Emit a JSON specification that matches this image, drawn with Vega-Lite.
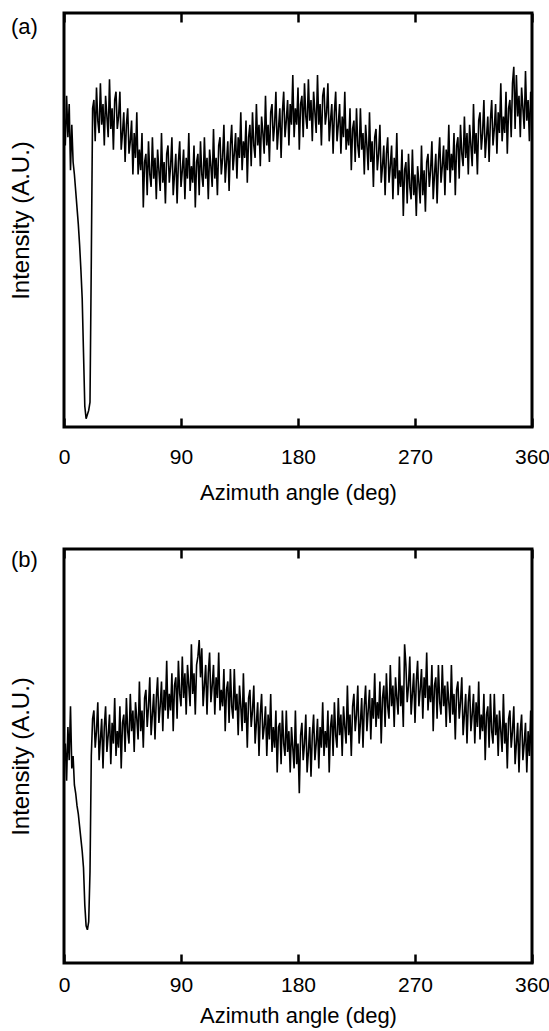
{
"$schema": "https://vega.github.io/schema/vega-lite/v6.json",
"background": "white",
"padding": {"left": 7, "top": 10, "right": 0, "bottom": 0},
"spacing": 41,
"datasets": {
"a": [
{"x":0,"y":76},{"x":1,"y":68},{"x":2,"y":80},{"x":3,"y":70},{"x":4,"y":78},{"x":5,"y":62},{"x":6,"y":73},{"x":7,"y":64},{"x":8,"y":61},{"x":9,"y":57},
{"x":10,"y":53},{"x":11,"y":49},{"x":12,"y":44},{"x":13,"y":38},{"x":14,"y":31},{"x":15,"y":18},{"x":16,"y":5},{"x":17,"y":2},{"x":18,"y":3},{"x":19,"y":4},
{"x":20,"y":6},{"x":21,"y":40},{"x":22,"y":77},{"x":23,"y":79},{"x":24,"y":69},{"x":25,"y":82},{"x":26,"y":74},{"x":27,"y":71},{"x":28,"y":83},{"x":29,"y":73},
{"x":30,"y":78},{"x":31,"y":68},{"x":32,"y":80},{"x":33,"y":75},{"x":34,"y":70},{"x":35,"y":84},{"x":36,"y":72},{"x":37,"y":77},{"x":38,"y":67},{"x":39,"y":79},
{"x":40,"y":81},{"x":41,"y":72},{"x":42,"y":75},{"x":43,"y":81},{"x":44,"y":67},{"x":45,"y":71},{"x":46,"y":76},{"x":47,"y":64},{"x":48,"y":73},{"x":49,"y":77},
{"x":50,"y":66},{"x":51,"y":69},{"x":52,"y":74},{"x":53,"y":61},{"x":54,"y":71},{"x":55,"y":65},{"x":56,"y":76},{"x":57,"y":61},{"x":58,"y":67},{"x":59,"y":62},
{"x":60,"y":71},{"x":61,"y":53},{"x":62,"y":64},{"x":63,"y":66},{"x":64,"y":56},{"x":65,"y":69},{"x":66,"y":61},{"x":67,"y":58},{"x":68,"y":70},{"x":69,"y":60},
{"x":70,"y":65},{"x":71,"y":55},{"x":72,"y":67},{"x":73,"y":62},{"x":74,"y":57},{"x":75,"y":71},{"x":76,"y":59},{"x":77,"y":64},{"x":78,"y":54},{"x":79,"y":66},
{"x":80,"y":68},{"x":81,"y":59},{"x":82,"y":63},{"x":83,"y":70},{"x":84,"y":56},{"x":85,"y":61},{"x":86,"y":66},{"x":87,"y":54},{"x":88,"y":64},{"x":89,"y":69},
{"x":90,"y":58},{"x":91,"y":62},{"x":92,"y":67},{"x":93,"y":55},{"x":94,"y":65},{"x":95,"y":60},{"x":96,"y":71},{"x":97,"y":57},{"x":98,"y":63},{"x":99,"y":59},
{"x":100,"y":68},{"x":101,"y":53},{"x":102,"y":64},{"x":103,"y":66},{"x":104,"y":56},{"x":105,"y":69},{"x":106,"y":61},{"x":107,"y":58},{"x":108,"y":70},{"x":109,"y":60},
{"x":110,"y":65},{"x":111,"y":55},{"x":112,"y":67},{"x":113,"y":63},{"x":114,"y":58},{"x":115,"y":72},{"x":116,"y":60},{"x":117,"y":65},{"x":118,"y":56},{"x":119,"y":68},
{"x":120,"y":70},{"x":121,"y":61},{"x":122,"y":65},{"x":123,"y":73},{"x":124,"y":59},{"x":125,"y":64},{"x":126,"y":69},{"x":127,"y":57},{"x":128,"y":68},{"x":129,"y":73},
{"x":130,"y":62},{"x":131,"y":66},{"x":132,"y":71},{"x":133,"y":60},{"x":134,"y":70},{"x":135,"y":65},{"x":136,"y":76},{"x":137,"y":62},{"x":138,"y":69},{"x":139,"y":65},
{"x":140,"y":74},{"x":141,"y":59},{"x":142,"y":70},{"x":143,"y":73},{"x":144,"y":63},{"x":145,"y":76},{"x":146,"y":68},{"x":147,"y":65},{"x":148,"y":78},{"x":149,"y":68},
{"x":150,"y":73},{"x":151,"y":63},{"x":152,"y":75},{"x":153,"y":71},{"x":154,"y":66},{"x":155,"y":80},{"x":156,"y":68},{"x":157,"y":73},{"x":158,"y":64},{"x":159,"y":76},
{"x":160,"y":78},{"x":161,"y":69},{"x":162,"y":73},{"x":163,"y":81},{"x":164,"y":67},{"x":165,"y":72},{"x":166,"y":77},{"x":167,"y":65},{"x":168,"y":76},{"x":169,"y":81},
{"x":170,"y":70},{"x":171,"y":74},{"x":172,"y":79},{"x":173,"y":68},{"x":174,"y":78},{"x":175,"y":73},{"x":176,"y":85},{"x":177,"y":70},{"x":178,"y":77},{"x":179,"y":73},
{"x":180,"y":82},{"x":181,"y":67},{"x":182,"y":78},{"x":183,"y":80},{"x":184,"y":70},{"x":185,"y":83},{"x":186,"y":75},{"x":187,"y":72},{"x":188,"y":84},{"x":189,"y":74},
{"x":190,"y":79},{"x":191,"y":69},{"x":192,"y":81},{"x":193,"y":76},{"x":194,"y":71},{"x":195,"y":85},{"x":196,"y":73},{"x":197,"y":78},{"x":198,"y":68},{"x":199,"y":80},
{"x":200,"y":82},{"x":201,"y":73},{"x":202,"y":76},{"x":203,"y":83},{"x":204,"y":69},{"x":205,"y":74},{"x":206,"y":78},{"x":207,"y":66},{"x":208,"y":76},{"x":209,"y":81},
{"x":210,"y":69},{"x":211,"y":73},{"x":212,"y":78},{"x":213,"y":66},{"x":214,"y":75},{"x":215,"y":70},{"x":216,"y":81},{"x":217,"y":67},{"x":218,"y":72},{"x":219,"y":68},
{"x":220,"y":77},{"x":221,"y":62},{"x":222,"y":72},{"x":223,"y":74},{"x":224,"y":64},{"x":225,"y":77},{"x":226,"y":68},{"x":227,"y":65},{"x":228,"y":77},{"x":229,"y":67},
{"x":230,"y":71},{"x":231,"y":61},{"x":232,"y":73},{"x":233,"y":68},{"x":234,"y":62},{"x":235,"y":76},{"x":236,"y":64},{"x":237,"y":69},{"x":238,"y":58},{"x":239,"y":70},
{"x":240,"y":72},{"x":241,"y":62},{"x":242,"y":66},{"x":243,"y":73},{"x":244,"y":59},{"x":245,"y":63},{"x":246,"y":68},{"x":247,"y":56},{"x":248,"y":66},{"x":249,"y":70},
{"x":250,"y":59},{"x":251,"y":63},{"x":252,"y":68},{"x":253,"y":55},{"x":254,"y":65},{"x":255,"y":60},{"x":256,"y":71},{"x":257,"y":56},{"x":258,"y":62},{"x":259,"y":58},
{"x":260,"y":67},{"x":261,"y":51},{"x":262,"y":62},{"x":263,"y":64},{"x":264,"y":54},{"x":265,"y":66},{"x":266,"y":58},{"x":267,"y":55},{"x":268,"y":67},{"x":269,"y":56},
{"x":270,"y":61},{"x":271,"y":51},{"x":272,"y":63},{"x":273,"y":59},{"x":274,"y":54},{"x":275,"y":68},{"x":276,"y":56},{"x":277,"y":62},{"x":278,"y":52},{"x":279,"y":64},
{"x":280,"y":66},{"x":281,"y":58},{"x":282,"y":62},{"x":283,"y":69},{"x":284,"y":55},{"x":285,"y":61},{"x":286,"y":66},{"x":287,"y":54},{"x":288,"y":64},{"x":289,"y":70},
{"x":290,"y":59},{"x":291,"y":63},{"x":292,"y":68},{"x":293,"y":56},{"x":294,"y":67},{"x":295,"y":62},{"x":296,"y":73},{"x":297,"y":59},{"x":298,"y":66},{"x":299,"y":62},
{"x":300,"y":71},{"x":301,"y":56},{"x":302,"y":68},{"x":303,"y":70},{"x":304,"y":60},{"x":305,"y":73},{"x":306,"y":66},{"x":307,"y":63},{"x":308,"y":75},{"x":309,"y":65},
{"x":310,"y":71},{"x":311,"y":61},{"x":312,"y":73},{"x":313,"y":68},{"x":314,"y":63},{"x":315,"y":78},{"x":316,"y":66},{"x":317,"y":71},{"x":318,"y":61},{"x":319,"y":74},
{"x":320,"y":76},{"x":321,"y":67},{"x":322,"y":71},{"x":323,"y":79},{"x":324,"y":65},{"x":325,"y":70},{"x":326,"y":75},{"x":327,"y":64},{"x":328,"y":74},{"x":329,"y":79},
{"x":330,"y":68},{"x":331,"y":72},{"x":332,"y":78},{"x":333,"y":66},{"x":334,"y":76},{"x":335,"y":71},{"x":336,"y":83},{"x":337,"y":69},{"x":338,"y":75},{"x":339,"y":71},
{"x":340,"y":81},{"x":341,"y":66},{"x":342,"y":77},{"x":343,"y":79},{"x":344,"y":70},{"x":345,"y":83},{"x":346,"y":87},{"x":347,"y":72},{"x":348,"y":85},{"x":349,"y":75},
{"x":350,"y":80},{"x":351,"y":70},{"x":352,"y":82},{"x":353,"y":77},{"x":354,"y":72},{"x":355,"y":86},{"x":356,"y":74},{"x":357,"y":79},{"x":358,"y":69},{"x":359,"y":81},
{"x":360,"y":76}
],
"b": [
{"x":0,"y":48},{"x":1,"y":53},{"x":2,"y":44},{"x":3,"y":57},{"x":4,"y":49},{"x":5,"y":62},{"x":6,"y":47},{"x":7,"y":50},{"x":8,"y":43},{"x":9,"y":41},
{"x":10,"y":38},{"x":11,"y":36},{"x":12,"y":33},{"x":13,"y":30},{"x":14,"y":27},{"x":15,"y":23},{"x":16,"y":14},{"x":17,"y":9},{"x":18,"y":8},{"x":19,"y":10},
{"x":20,"y":22},{"x":21,"y":50},{"x":22,"y":59},{"x":23,"y":61},{"x":24,"y":52},{"x":25,"y":56},{"x":26,"y":63},{"x":27,"y":49},{"x":28,"y":54},{"x":29,"y":59},
{"x":30,"y":47},{"x":31,"y":57},{"x":32,"y":62},{"x":33,"y":51},{"x":34,"y":55},{"x":35,"y":60},{"x":36,"y":48},{"x":37,"y":58},{"x":38,"y":53},{"x":39,"y":64},
{"x":40,"y":50},{"x":41,"y":56},{"x":42,"y":52},{"x":43,"y":62},{"x":44,"y":47},{"x":45,"y":58},{"x":46,"y":60},{"x":47,"y":51},{"x":48,"y":64},{"x":49,"y":56},
{"x":50,"y":53},{"x":51,"y":65},{"x":52,"y":56},{"x":53,"y":61},{"x":54,"y":51},{"x":55,"y":63},{"x":56,"y":59},{"x":57,"y":54},{"x":58,"y":68},{"x":59,"y":56},
{"x":60,"y":61},{"x":61,"y":52},{"x":62,"y":64},{"x":63,"y":66},{"x":64,"y":57},{"x":65,"y":62},{"x":66,"y":69},{"x":67,"y":55},{"x":68,"y":60},{"x":69,"y":65},
{"x":70,"y":54},{"x":71,"y":64},{"x":72,"y":69},{"x":73,"y":58},{"x":74,"y":62},{"x":75,"y":68},{"x":76,"y":56},{"x":77,"y":66},{"x":78,"y":61},{"x":79,"y":73},
{"x":80,"y":59},{"x":81,"y":65},{"x":82,"y":61},{"x":83,"y":70},{"x":84,"y":56},{"x":85,"y":67},{"x":86,"y":69},{"x":87,"y":59},{"x":88,"y":73},{"x":89,"y":65},
{"x":90,"y":62},{"x":91,"y":74},{"x":92,"y":64},{"x":93,"y":70},{"x":94,"y":60},{"x":95,"y":72},{"x":96,"y":67},{"x":97,"y":62},{"x":98,"y":77},{"x":99,"y":65},
{"x":100,"y":70},{"x":101,"y":60},{"x":102,"y":72},{"x":103,"y":74},{"x":104,"y":78},{"x":105,"y":69},{"x":106,"y":76},{"x":107,"y":62},{"x":108,"y":67},{"x":109,"y":72},
{"x":110,"y":60},{"x":111,"y":70},{"x":112,"y":75},{"x":113,"y":63},{"x":114,"y":67},{"x":115,"y":72},{"x":116,"y":60},{"x":117,"y":69},{"x":118,"y":64},{"x":119,"y":75},
{"x":120,"y":61},{"x":121,"y":66},{"x":122,"y":62},{"x":123,"y":71},{"x":124,"y":56},{"x":125,"y":66},{"x":126,"y":68},{"x":127,"y":58},{"x":128,"y":71},{"x":129,"y":62},
{"x":130,"y":59},{"x":131,"y":71},{"x":132,"y":61},{"x":133,"y":65},{"x":134,"y":55},{"x":135,"y":67},{"x":136,"y":62},{"x":137,"y":56},{"x":138,"y":70},{"x":139,"y":58},
{"x":140,"y":63},{"x":141,"y":52},{"x":142,"y":64},{"x":143,"y":66},{"x":144,"y":57},{"x":145,"y":61},{"x":146,"y":67},{"x":147,"y":53},{"x":148,"y":58},{"x":149,"y":63},
{"x":150,"y":50},{"x":151,"y":60},{"x":152,"y":65},{"x":153,"y":54},{"x":154,"y":57},{"x":155,"y":62},{"x":156,"y":50},{"x":157,"y":60},{"x":158,"y":54},{"x":159,"y":65},
{"x":160,"y":51},{"x":161,"y":57},{"x":162,"y":52},{"x":163,"y":61},{"x":164,"y":46},{"x":165,"y":57},{"x":166,"y":58},{"x":167,"y":48},{"x":168,"y":61},{"x":169,"y":53},
{"x":170,"y":50},{"x":171,"y":61},{"x":172,"y":51},{"x":173,"y":56},{"x":174,"y":46},{"x":175,"y":57},{"x":176,"y":52},{"x":177,"y":47},{"x":178,"y":61},{"x":179,"y":48},
{"x":180,"y":53},{"x":181,"y":41},{"x":182,"y":55},{"x":183,"y":58},{"x":184,"y":49},{"x":185,"y":53},{"x":186,"y":60},{"x":187,"y":46},{"x":188,"y":51},{"x":189,"y":57},
{"x":190,"y":45},{"x":191,"y":55},{"x":192,"y":60},{"x":193,"y":49},{"x":194,"y":53},{"x":195,"y":59},{"x":196,"y":47},{"x":197,"y":57},{"x":198,"y":52},{"x":199,"y":63},
{"x":200,"y":50},{"x":201,"y":56},{"x":202,"y":52},{"x":203,"y":61},{"x":204,"y":46},{"x":205,"y":57},{"x":206,"y":60},{"x":207,"y":50},{"x":208,"y":63},{"x":209,"y":55},
{"x":210,"y":52},{"x":211,"y":64},{"x":212,"y":55},{"x":213,"y":60},{"x":214,"y":50},{"x":215,"y":62},{"x":216,"y":57},{"x":217,"y":53},{"x":218,"y":67},{"x":219,"y":55},
{"x":220,"y":60},{"x":221,"y":50},{"x":222,"y":62},{"x":223,"y":65},{"x":224,"y":56},{"x":225,"y":60},{"x":226,"y":67},{"x":227,"y":53},{"x":228,"y":58},{"x":229,"y":64},
{"x":230,"y":52},{"x":231,"y":62},{"x":232,"y":67},{"x":233,"y":56},{"x":234,"y":61},{"x":235,"y":66},{"x":236,"y":54},{"x":237,"y":64},{"x":238,"y":59},{"x":239,"y":70},
{"x":240,"y":57},{"x":241,"y":63},{"x":242,"y":59},{"x":243,"y":68},{"x":244,"y":53},{"x":245,"y":64},{"x":246,"y":67},{"x":247,"y":57},{"x":248,"y":70},{"x":249,"y":62},
{"x":250,"y":59},{"x":251,"y":72},{"x":252,"y":62},{"x":253,"y":67},{"x":254,"y":57},{"x":255,"y":69},{"x":256,"y":64},{"x":257,"y":60},{"x":258,"y":74},{"x":259,"y":62},
{"x":260,"y":67},{"x":261,"y":57},{"x":262,"y":77},{"x":263,"y":72},{"x":264,"y":63},{"x":265,"y":67},{"x":266,"y":74},{"x":267,"y":60},{"x":268,"y":65},{"x":269,"y":70},
{"x":270,"y":58},{"x":271,"y":68},{"x":272,"y":73},{"x":273,"y":62},{"x":274,"y":66},{"x":275,"y":71},{"x":276,"y":59},{"x":277,"y":69},{"x":278,"y":64},{"x":279,"y":75},
{"x":280,"y":61},{"x":281,"y":67},{"x":282,"y":63},{"x":283,"y":72},{"x":284,"y":56},{"x":285,"y":67},{"x":286,"y":69},{"x":287,"y":59},{"x":288,"y":72},{"x":289,"y":63},
{"x":290,"y":60},{"x":291,"y":72},{"x":292,"y":62},{"x":293,"y":67},{"x":294,"y":57},{"x":295,"y":68},{"x":296,"y":63},{"x":297,"y":58},{"x":298,"y":72},{"x":299,"y":60},
{"x":300,"y":65},{"x":301,"y":54},{"x":302,"y":66},{"x":303,"y":68},{"x":304,"y":59},{"x":305,"y":63},{"x":306,"y":69},{"x":307,"y":55},{"x":308,"y":60},{"x":309,"y":65},
{"x":310,"y":53},{"x":311,"y":63},{"x":312,"y":67},{"x":313,"y":56},{"x":314,"y":60},{"x":315,"y":65},{"x":316,"y":53},{"x":317,"y":63},{"x":318,"y":57},{"x":319,"y":68},
{"x":320,"y":54},{"x":321,"y":60},{"x":322,"y":56},{"x":323,"y":65},{"x":324,"y":49},{"x":325,"y":60},{"x":326,"y":62},{"x":327,"y":52},{"x":328,"y":65},{"x":329,"y":56},
{"x":330,"y":53},{"x":331,"y":65},{"x":332,"y":55},{"x":333,"y":60},{"x":334,"y":50},{"x":335,"y":61},{"x":336,"y":56},{"x":337,"y":51},{"x":338,"y":65},{"x":339,"y":53},
{"x":340,"y":58},{"x":341,"y":47},{"x":342,"y":59},{"x":343,"y":61},{"x":344,"y":52},{"x":345,"y":56},{"x":346,"y":62},{"x":347,"y":48},{"x":348,"y":53},{"x":349,"y":58},
{"x":350,"y":46},{"x":351,"y":56},{"x":352,"y":60},{"x":353,"y":49},{"x":354,"y":53},{"x":355,"y":58},{"x":356,"y":46},{"x":357,"y":56},{"x":358,"y":50},{"x":359,"y":61},
{"x":360,"y":47}
]
},
"config": {
  "font": "Liberation Sans",
  "view": {"stroke": "black", "strokeWidth": 3},
  "axis": {"domain": false, "grid": false, "labelColor": "black", "titleColor": "black", "tickColor": "black", "tickWidth": 2.5, "titleFontWeight": "normal", "labelFont": "Liberation Sans", "titleFont": "Liberation Sans", "labelFlush": false},
  "title": {"font": "Liberation Sans", "fontWeight": "normal", "fontSize": 22, "color": "black"}
},
"vconcat": [
{
  "width": 468, "height": 414,
  "title": {"text": "(a)", "anchor": "start", "frame": "bounds", "baseline": "top", "offset": -27, "dx": 2},
  "data": {"name": "a"},
  "layer": [
    {"mark": {"type": "line", "color": "black", "strokeWidth": 1.6},
     "encoding": {
       "x": {"field": "x", "type": "quantitative", "scale": {"domain": [0, 360], "nice": false},
             "axis": {"orient": "bottom", "values": [0, 90, 180, 270, 360], "tickSize": -9, "labelPadding": 28, "labelFontSize": 21, "title": "Azimuth angle (deg)", "titleFontSize": 22, "titlePadding": 15}},
       "y": {"field": "y", "type": "quantitative", "scale": {"domain": [0, 100], "nice": false, "zero": false},
             "axis": {"title": "Intensity (A.U.)", "ticks": false, "labels": false, "titleFontSize": 24, "titlePadding": 31}}
     }},
    {"mark": {"type": "point", "opacity": 0},
     "encoding": {
       "x": {"field": "x", "type": "quantitative", "axis": {"orient": "top", "values": [0, 90, 180, 270, 360], "tickSize": -9, "labels": false, "title": null}}
     }}
  ]
},
{
  "width": 468, "height": 414,
  "title": {"text": "(b)", "anchor": "start", "frame": "bounds", "baseline": "top", "offset": -24, "dx": 2},
  "data": {"name": "b"},
  "layer": [
    {"mark": {"type": "line", "color": "black", "strokeWidth": 1.6},
     "encoding": {
       "x": {"field": "x", "type": "quantitative", "scale": {"domain": [0, 360], "nice": false},
             "axis": {"orient": "bottom", "values": [0, 90, 180, 270, 360], "tickSize": -9, "labelPadding": 20, "labelFontSize": 21, "title": "Azimuth angle (deg)", "titleFontSize": 22, "titlePadding": 10}},
       "y": {"field": "y", "type": "quantitative", "scale": {"domain": [0, 100], "nice": false, "zero": false},
             "axis": {"title": "Intensity (A.U.)", "ticks": false, "labels": false, "titleFontSize": 24, "titlePadding": 31}}
     }},
    {"mark": {"type": "point", "opacity": 0},
     "encoding": {
       "x": {"field": "x", "type": "quantitative", "axis": {"orient": "top", "values": [0, 90, 180, 270, 360], "tickSize": -9, "labels": false, "title": null}}
     }}
  ]
}
]
}
